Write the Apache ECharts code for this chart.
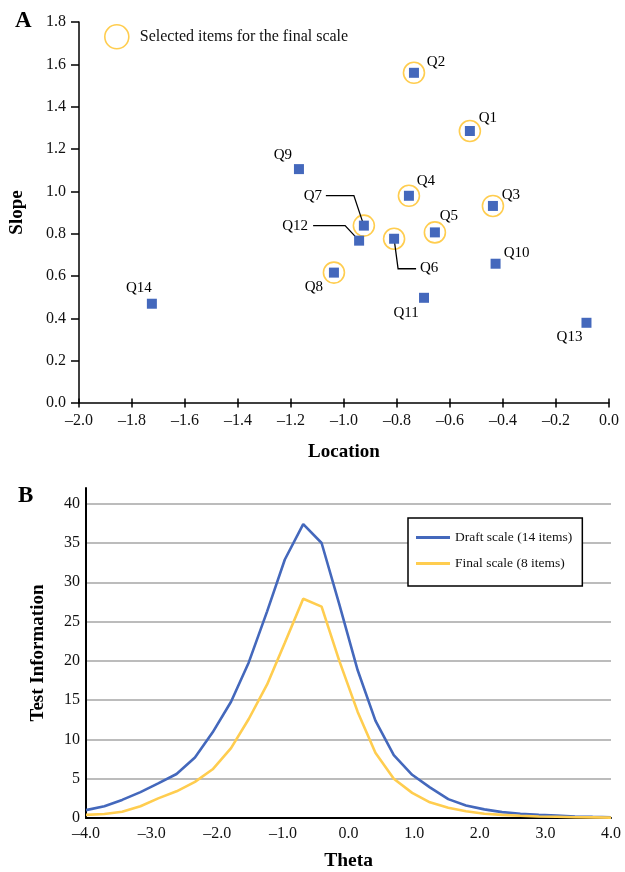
<!DOCTYPE html>
<html>
<head>
<meta charset="utf-8">
<script src="https://cdn.jsdelivr.net/npm/echarts@6/dist/echarts.min.js"></script>
<style>
  html, body { margin: 0; padding: 0; background: #fff; }
  #main { width: 625px; height: 872px; }
</style>
</head>
<body>
<div id="main"></div>
<script>
// panel A: item parameters
var items = ['Q1', 'Q2', 'Q3', 'Q4', 'Q5', 'Q6', 'Q7', 'Q8', 'Q9', 'Q10', 'Q11', 'Q12', 'Q13', 'Q14'];
var location_ = [-0.525, -0.736, -0.438, -0.755, -0.657, -0.811, -0.925, -1.038, -1.170, -0.428, -0.698, -0.943, -0.085, -1.725];
var slope = [1.285, 1.560, 0.931, 0.979, 0.806, 0.776, 0.838, 0.616, 1.105, 0.658, 0.497, 0.767, 0.379, 0.469];
var selected = ['Q1', 'Q2', 'Q3', 'Q4', 'Q5', 'Q6', 'Q7', 'Q8'];

// panel B: test information curves
var theta = [-4.00, -3.72, -3.45, -3.17, -2.90, -2.62, -2.34, -2.07, -1.79, -1.52,
             -1.24, -0.97, -0.69, -0.41, -0.14, 0.14, 0.41, 0.69, 0.97, 1.24,
             1.52, 1.79, 2.07, 2.34, 2.62, 2.90, 3.17, 3.45, 3.72, 4.00];
var draft = [1.0, 1.5, 2.3, 3.3, 4.4, 5.6, 7.7, 10.9, 14.8, 19.8,
             26.3, 32.9, 37.4, 35.0, 27.2, 18.8, 12.4, 8.0, 5.5, 3.9,
             2.4, 1.6, 1.1, 0.75, 0.55, 0.4, 0.3, 0.2, 0.14, 0.1];
var final_ = [0.4, 0.5, 0.8, 1.5, 2.5, 3.4, 4.6, 6.2, 8.9, 12.6,
              17.0, 22.3, 27.9, 26.9, 20.0, 13.5, 8.3, 5.0, 3.2, 2.0,
              1.3, 0.85, 0.55, 0.4, 0.28, 0.2, 0.15, 0.1, 0.08, 0.05];

// label placement (pixel offsets from the marker centre)
var labelOffset = {
  Q1: [18, -13], Q2: [22, -11], Q3: [18, -11], Q4: [17, -15], Q5: [14, -16],
  Q6: [35, 29], Q7: [-51, -30], Q8: [-20, 14], Q9: [-16, -14], Q10: [21, -11],
  Q11: [-18, 15], Q12: [-64, -15], Q13: [-17, 14], Q14: [-13, -16]
};
// leader lines (pixel offsets from the marker centre)
var leaders = {
  Q7: [[-38, -30], [-10, -30], [0, 0]],
  Q12: [[-46, -15], [-14, -15], [0, 0]],
  Q6: [[0, 0], [4, 30], [22, 30]]
};

var BLUE = '#4468BC';
var GOLD = '#FFCD4F';
var FONT = 'Liberation Serif';

function fmtDash(v, d) {
  var s = Math.abs(v).toFixed(d);
  return (v < -1e-9 ? '\u2013' : '') + s;
}

var chart = echarts.init(document.getElementById('main'));

var pts = items.map(function (q, i) {
  return {
    name: q,
    value: [location_[i], slope[i]],
    label: { offset: labelOffset[q] }
  };
});
var rings = items.filter(function (q) { return selected.indexOf(q) >= 0; }).map(function (q) {
  var i = items.indexOf(q);
  return [location_[i], slope[i]];
});
var leaderData = Object.keys(leaders).map(function (q) {
  var i = items.indexOf(q);
  return { name: q, value: [location_[i], slope[i]] };
});

var option = {
  animation: false,
  textStyle: { fontFamily: FONT },
  title: [
    { text: 'A', left: 10, top: 5, textStyle: { fontFamily: FONT, fontSize: 23, fontWeight: 'bold', color: '#000' } },
    { text: 'B', left: 13, top: 480, textStyle: { fontFamily: FONT, fontSize: 23, fontWeight: 'bold', color: '#000' } }
  ],
  legend: [
    {
      data: ['Selected items for the final scale'],
      left: 99, top: 19,
      itemWidth: 24, itemHeight: 24,
      icon: 'circle',
      itemStyle: { color: 'rgba(0,0,0,0)', borderColor: GOLD, borderWidth: 1.6, opacity: 1 },
      textStyle: { fontFamily: FONT, fontSize: 16, color: '#111', padding: [0, 0, 0, 6] }
    },
    {
      data: [
        { name: 'Draft scale (14 items)', icon: 'rect' },
        { name: 'Final scale (8 items)', icon: 'rect' }
      ],
      orient: 'vertical',
      left: 408, top: 518,
      padding: [12, 10, 15, 8],
      itemGap: 11,
      itemWidth: 34, itemHeight: 3,
      backgroundColor: '#fff',
      borderColor: '#000', borderWidth: 1.5,
      textStyle: { fontFamily: FONT, fontSize: 13.5, color: '#111', lineHeight: 15 }
    }
  ],
  grid: [
    { left: 79, right: 16, top: 22, height: 381 },
    { left: 86, right: 14, top: 488, height: 330 }
  ],
  xAxis: [
    {
      gridIndex: 0, type: 'value', min: -2, max: 0, interval: 0.2,
      name: 'Location', nameLocation: 'middle', nameGap: 40,
      nameTextStyle: { fontFamily: FONT, fontSize: 19, fontWeight: 'bold', color: '#000' },
      axisLine: { onZero: false, lineStyle: { color: '#000', width: 1.5 } },
      axisTick: { show: true, length: 4.5, lineStyle: { color: '#000', width: 1.5 } },
      axisLabel: { margin: 10, fontSize: 16, color: '#111', formatter: function (v) { return fmtDash(v, 1); } },
      splitLine: { show: false }
    },
    {
      gridIndex: 0, type: 'value', min: -2, max: 0, interval: 0.2, position: 'bottom',
      axisLine: { show: false },
      axisTick: { show: true, inside: true, length: 4.5, lineStyle: { color: '#000', width: 1.5 } },
      axisLabel: { show: false },
      splitLine: { show: false }
    },
    {
      gridIndex: 1, type: 'value', min: -4, max: 4, interval: 1,
      name: 'Theta', nameLocation: 'middle', nameGap: 33,
      nameTextStyle: { fontFamily: FONT, fontSize: 19.5, fontWeight: 'bold', color: '#000' },
      axisLine: { onZero: false, lineStyle: { color: '#000', width: 2 } },
      axisTick: { show: false },
      axisLabel: { margin: 8, fontSize: 16, color: '#111', formatter: function (v) { return fmtDash(v, 1); } },
      splitLine: { show: false }
    }
  ],
  yAxis: [
    {
      gridIndex: 0, type: 'value', min: 0, max: 1.8, interval: 0.2,
      name: 'Slope', nameLocation: 'middle', nameGap: 52,
      nameTextStyle: { fontFamily: FONT, fontSize: 19, fontWeight: 'bold', color: '#000' },
      axisLine: { show: true, onZero: false, lineStyle: { color: '#000', width: 1.5 } },
      axisTick: { show: true, length: 8, lineStyle: { color: '#000', width: 1.5 } },
      axisLabel: { margin: 13, fontSize: 16, color: '#111', formatter: function (v) { return v.toFixed(1); } },
      splitLine: { show: false }
    },
    {
      gridIndex: 1, type: 'value', min: 0, max: 42, interval: 5,
      name: 'Test Information', nameLocation: 'middle', nameGap: 38,
      nameTextStyle: { fontFamily: FONT, fontSize: 19, fontWeight: 'bold', color: '#000' },
      axisLine: { show: true, onZero: false, lineStyle: { color: '#000', width: 2 } },
      axisTick: { show: false },
      axisLabel: { margin: 6, fontSize: 16, color: '#111', showMaxLabel: false },
      splitLine: { show: true, showMaxLine: false, lineStyle: { color: '#A6A6A6', width: 1.5 } }
    }
  ],
  series: [
    {
      name: 'Selected items for the final scale',
      type: 'scatter', xAxisIndex: 0, yAxisIndex: 0,
      symbol: 'circle', symbolSize: 21, z: 2,
      itemStyle: { color: 'rgba(0,0,0,0)', borderColor: GOLD, borderWidth: 1.6, opacity: 1 },
      data: rings
    },
    {
      name: 'leaders',
      type: 'custom', xAxisIndex: 0, yAxisIndex: 0, z: 3,
      renderItem: function (params, api) {
        var c = api.coord([api.value(0), api.value(1)]);
        var segs = leaders[leaderData[params.dataIndex].name];
        return {
          type: 'polyline',
          shape: { points: segs.map(function (o) { return [c[0] + o[0], c[1] + o[1]]; }) },
          style: { stroke: '#000', lineWidth: 1.3, fill: null }
        };
      },
      data: leaderData
    },
    {
      name: 'items',
      type: 'scatter', xAxisIndex: 0, yAxisIndex: 0,
      symbol: 'rect', symbolSize: 10, z: 4,
      itemStyle: { color: BLUE, opacity: 1 },
      label: {
        show: true, position: 'inside',
        formatter: '{b}', fontFamily: FONT, fontSize: 15, color: '#000'
      },
      data: pts
    },
    {
      name: 'Draft scale (14 items)',
      type: 'line', xAxisIndex: 2, yAxisIndex: 1,
      symbol: 'none', smooth: false,
      lineStyle: { color: BLUE, width: 2.6 },
      itemStyle: { color: BLUE },
      data: theta.map(function (t, i) { return [t, draft[i]]; })
    },
    {
      name: 'Final scale (8 items)',
      type: 'line', xAxisIndex: 2, yAxisIndex: 1,
      symbol: 'none', smooth: false,
      lineStyle: { color: GOLD, width: 2.6 },
      itemStyle: { color: GOLD },
      data: theta.map(function (t, i) { return [t, final_[i]]; })
    }
  ]
};

chart.setOption(option);
</script>
</body>
</html>
